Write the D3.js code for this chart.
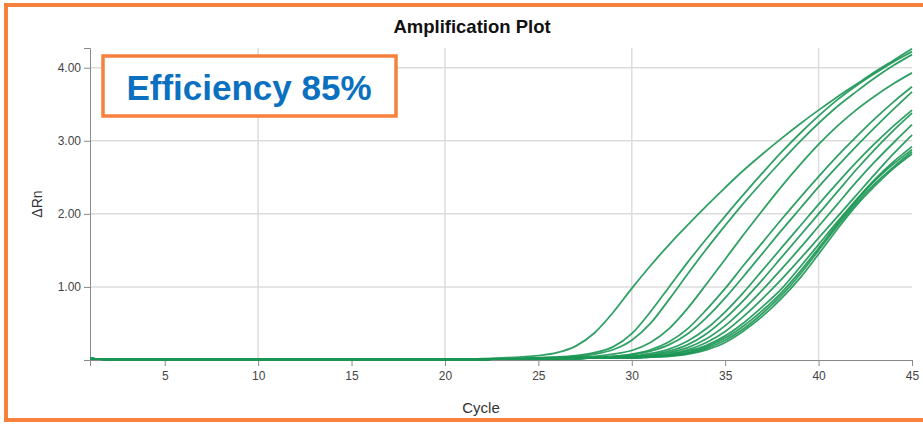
<!DOCTYPE html>
<html>
<head>
<meta charset="utf-8">
<script src="https://cdn.jsdelivr.net/npm/d3@7"></script>
<style>
  body { margin: 0; background: #fff; }
  svg { display: block; font-family: Arial, "Liberation Sans", sans-serif; }
  .axis path, .axis line { stroke: #8a8a8a; }
  .axis text { fill: #444; font-size: 12px; }
</style>
</head>
<body>
<div id="graph"></div>
<script>
const width = 923;
const height = 424;
const margin = { top: 48, right: 11, bottom: 64, left: 90 };

const cycles = d3.range(1, 46);
const xTicks = [5, 10, 15, 20, 25, 30, 35, 40, 45];
const yTicks = [0, 1, 2, 3, 4];
const xGrid = [10, 20, 30, 40];
const yGrid = [1, 2, 3, 4];

// ΔRn per well, cycles 1..45
const well01 = [0.02,0.01,0.01,0.01,0.01,0.01,0.01,0.01,0.01,0.01,0.01,0.01,0.01,0.01,0.01,0.01,0.01,0.01,0.01,0.01,0.015,0.02,0.03,0.04,0.06,0.10,0.19,0.37,0.65,0.98,1.29,1.58,1.85,2.11,2.36,2.60,2.82,3.03,3.23,3.42,3.60,3.77,3.94,4.10,4.26];
const well02 = [0.02,0.01,0.01,0.01,0.01,0.01,0.01,0.01,0.01,0.01,0.01,0.01,0.01,0.01,0.01,0.01,0.01,0.01,0.01,0.01,0.01,0.015,0.015,0.02,0.03,0.04,0.06,0.10,0.18,0.36,0.66,1.00,1.34,1.66,1.97,2.27,2.56,2.84,3.10,3.34,3.56,3.75,3.92,4.08,4.22];
const well03 = [0.02,0.01,0.01,0.01,0.01,0.01,0.01,0.01,0.01,0.01,0.01,0.01,0.01,0.01,0.01,0.01,0.01,0.01,0.01,0.01,0.01,0.015,0.015,0.02,0.03,0.04,0.05,0.08,0.14,0.27,0.50,0.83,1.18,1.52,1.84,2.15,2.44,2.72,2.99,3.24,3.47,3.67,3.86,4.03,4.18];
const well04 = [0.02,0.01,0.01,0.01,0.01,0.01,0.01,0.01,0.01,0.01,0.01,0.01,0.01,0.01,0.01,0.01,0.01,0.01,0.01,0.01,0.01,0.015,0.015,0.02,0.02,0.03,0.04,0.05,0.08,0.13,0.24,0.43,0.71,1.04,1.38,1.72,2.05,2.37,2.67,2.95,3.20,3.42,3.61,3.78,3.93];
const well05 = [0.02,0.01,0.01,0.01,0.01,0.01,0.01,0.01,0.01,0.01,0.01,0.01,0.01,0.01,0.01,0.01,0.01,0.01,0.01,0.01,0.01,0.01,0.015,0.015,0.02,0.02,0.03,0.04,0.05,0.08,0.14,0.25,0.43,0.69,0.98,1.30,1.61,1.92,2.22,2.51,2.79,3.05,3.30,3.53,3.74];
const well06 = [0.02,0.01,0.01,0.01,0.01,0.01,0.01,0.01,0.01,0.01,0.01,0.01,0.01,0.01,0.01,0.01,0.01,0.01,0.01,0.01,0.01,0.01,0.015,0.015,0.02,0.02,0.03,0.03,0.05,0.07,0.12,0.21,0.36,0.58,0.85,1.15,1.46,1.77,2.07,2.37,2.65,2.92,3.18,3.43,3.67];
const well07 = [0.02,0.01,0.01,0.01,0.01,0.01,0.01,0.01,0.01,0.01,0.01,0.01,0.01,0.01,0.01,0.01,0.01,0.01,0.01,0.01,0.01,0.01,0.015,0.015,0.02,0.02,0.02,0.03,0.04,0.05,0.09,0.15,0.26,0.43,0.66,0.93,1.23,1.53,1.83,2.13,2.42,2.70,2.96,3.20,3.42];
const well08 = [0.02,0.01,0.01,0.01,0.01,0.01,0.01,0.01,0.01,0.01,0.01,0.01,0.01,0.01,0.01,0.01,0.01,0.01,0.01,0.01,0.01,0.01,0.015,0.015,0.02,0.02,0.02,0.03,0.04,0.05,0.07,0.12,0.21,0.36,0.57,0.82,1.10,1.40,1.70,2.00,2.30,2.60,2.88,3.14,3.38];
const well09 = [0.02,0.01,0.01,0.01,0.01,0.01,0.01,0.01,0.01,0.01,0.01,0.01,0.01,0.01,0.01,0.01,0.01,0.01,0.01,0.01,0.01,0.01,0.015,0.015,0.02,0.02,0.02,0.03,0.03,0.04,0.06,0.10,0.17,0.29,0.47,0.70,0.96,1.24,1.53,1.83,2.13,2.43,2.71,2.97,3.22];
const well10 = [0.02,0.01,0.01,0.01,0.01,0.01,0.01,0.01,0.01,0.01,0.01,0.01,0.01,0.01,0.01,0.01,0.01,0.01,0.01,0.01,0.01,0.01,0.015,0.015,0.02,0.02,0.02,0.03,0.03,0.04,0.05,0.08,0.14,0.24,0.39,0.60,0.84,1.10,1.38,1.67,1.96,2.25,2.54,2.82,3.08];
const well11 = [0.02,0.01,0.01,0.01,0.01,0.01,0.01,0.01,0.01,0.01,0.01,0.01,0.01,0.01,0.01,0.01,0.01,0.01,0.01,0.01,0.01,0.01,0.015,0.015,0.02,0.02,0.02,0.03,0.03,0.03,0.05,0.07,0.12,0.20,0.33,0.51,0.73,0.97,1.27,1.58,1.89,2.19,2.47,2.71,2.92];
const well12 = [0.02,0.01,0.01,0.01,0.01,0.01,0.01,0.01,0.01,0.01,0.01,0.01,0.01,0.01,0.01,0.01,0.01,0.01,0.01,0.01,0.01,0.01,0.015,0.015,0.02,0.02,0.02,0.03,0.03,0.03,0.04,0.06,0.10,0.18,0.30,0.47,0.68,0.92,1.21,1.53,1.86,2.17,2.45,2.68,2.88];
const well13 = [0.02,0.01,0.01,0.01,0.01,0.01,0.01,0.01,0.01,0.01,0.01,0.01,0.01,0.01,0.01,0.01,0.01,0.01,0.01,0.01,0.01,0.01,0.015,0.015,0.02,0.02,0.02,0.03,0.03,0.03,0.04,0.06,0.09,0.16,0.27,0.43,0.64,0.88,1.17,1.50,1.83,2.14,2.41,2.64,2.85];
const well14 = [0.02,0.01,0.01,0.01,0.01,0.01,0.01,0.01,0.01,0.01,0.01,0.01,0.01,0.01,0.01,0.01,0.01,0.01,0.01,0.01,0.01,0.01,0.015,0.015,0.02,0.02,0.02,0.03,0.03,0.03,0.04,0.05,0.08,0.14,0.24,0.40,0.60,0.84,1.12,1.45,1.79,2.11,2.38,2.62,2.82];

const wells = [well01, well02, well03, well04, well05, well06, well07,
               well08, well09, well10, well11, well12, well13, well14];

const svg = d3.select('#graph').append('svg')
    .attr('width', width)
    .attr('height', height);

// orange frame (right edge runs off the picture)
svg.append('rect')
    .attr('x', 6).attr('y', 5)
    .attr('width', 940).attr('height', 415)
    .attr('fill', 'none')
    .attr('stroke', '#f7803c')
    .attr('stroke-width', 4);

const x = d3.scaleLinear().domain([1, 45]).range([margin.left, width - margin.right]);
const y = d3.scaleLinear().domain([0, 4.27]).range([height - margin.bottom, margin.top]);

// grid
svg.append('g').selectAll('line')
    .data(yGrid)
    .enter().append('line')
        .attr('x1', x(1)).attr('x2', x(45))
        .attr('y1', d => y(d)).attr('y2', d => y(d))
        .attr('stroke', '#dcdcdc').attr('stroke-width', 1.5);

svg.append('g').selectAll('line')
    .data(xGrid)
    .enter().append('line')
        .attr('x1', d => x(d)).attr('x2', d => x(d))
        .attr('y1', y.range()[1]).attr('y2', y.range()[0])
        .attr('stroke', '#dcdcdc').attr('stroke-width', 1.5);

// axes
svg.append('g')
    .attr('class', 'axis')
    .attr('transform', 'translate(0,' + y(0) + ')')
    .call(d3.axisBottom(x).tickValues(xTicks).tickSize(6).tickPadding(5));

svg.append('g')
    .attr('class', 'axis')
    .attr('transform', 'translate(' + x(1) + ',0)')
    .call(d3.axisLeft(y).tickValues(yTicks).tickSize(6).tickPadding(3)
        .tickFormat(d => d === 0 ? '' : d3.format('.2f')(d)));

// curves
const line = d3.line()
    .x((d, i) => x(cycles[i]))
    .y(d => y(d))
    .curve(d3.curveMonotoneX);

svg.append('g').selectAll('path')
    .data(wells)
    .enter().append('path')
        .attr('d', line)
        .attr('fill', 'none')
        .attr('stroke', '#1b9654')
        .attr('stroke-opacity', 0.9)
        .attr('stroke-width', 1.8);

// titles
svg.append('text')
    .attr('x', 472).attr('y', 33)
    .attr('text-anchor', 'middle')
    .attr('font-size', 18.5).attr('font-weight', 'bold')
    .attr('fill', '#111')
    .text('Amplification Plot');

svg.append('text')
    .attr('x', 481).attr('y', 413)
    .attr('text-anchor', 'middle')
    .attr('font-size', 15)
    .attr('fill', '#333')
    .text('Cycle');

svg.append('text')
    .attr('transform', 'translate(42,204) rotate(-90)')
    .attr('text-anchor', 'middle')
    .attr('font-size', 14)
    .attr('fill', '#333')
    .text('ΔRn');

// efficiency callout
svg.append('rect')
    .attr('x', 103).attr('y', 56)
    .attr('width', 293).attr('height', 60)
    .attr('fill', '#fff')
    .attr('stroke', '#f7803c')
    .attr('stroke-width', 3.5);

svg.append('text')
    .attr('x', 249).attr('y', 100)
    .attr('text-anchor', 'middle')
    .attr('font-size', 35).attr('font-weight', 'bold')
    .attr('fill', '#0b70c0')
    .text('Efficiency 85%');
</script>
</body>
</html>
